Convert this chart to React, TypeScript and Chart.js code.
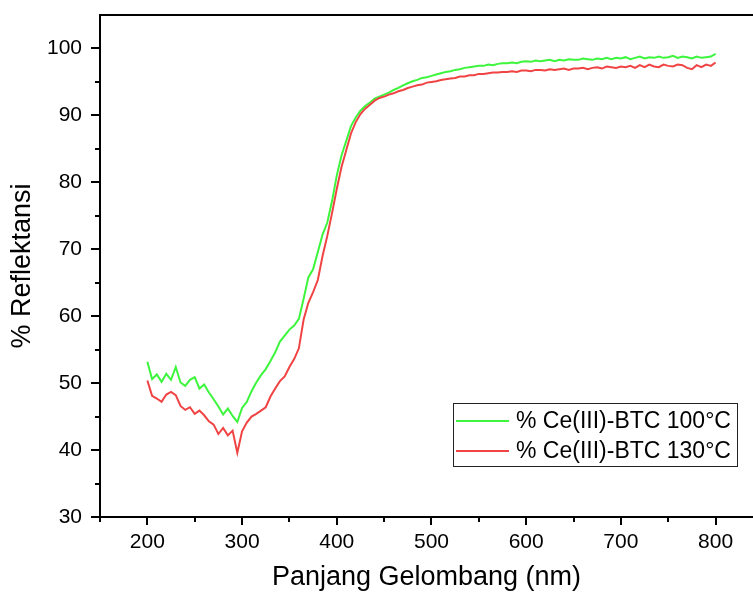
import React, { useEffect, useRef } from "react";
import { Chart, registerables } from "chart.js";

Chart.register(...registerables);

const wavelengths: number[] = [
  200, 205, 210, 215, 220, 225, 230, 235, 240, 245, 250, 255, 260, 265, 270, 275, 280, 285, 290, 295,
  300, 305, 310, 315, 320, 325, 330, 335, 340, 345, 350, 355, 360, 365, 370, 375, 380, 385, 390, 395,
  400, 405, 410, 415, 420, 425, 430, 435, 440, 445, 450, 455, 460, 465, 470, 475, 480, 485, 490, 495,
  500, 505, 510, 515, 520, 525, 530, 535, 540, 545, 550, 555, 560, 565, 570, 575, 580, 585, 590, 595,
  600, 605, 610, 615, 620, 625, 630, 635, 640, 645, 650, 655, 660, 665, 670, 675, 680, 685, 690, 695,
  700, 705, 710, 715, 720, 725, 730, 735, 740, 745, 750, 755, 760, 765, 770, 775, 780, 785, 790, 795,
  800,
];

const ce100: number[] = [
  53.2, 50.6, 51.3, 50.2, 51.4, 50.5, 52.4, 50.1, 49.6, 50.5, 50.9, 49.2, 49.8, 48.6, 47.6, 46.5, 45.3, 46.2, 45.1, 44.2,
  46.3, 47.2, 48.8, 50.1, 51.2, 52.1, 53.3, 54.6, 56.2, 57.1, 58.0, 58.6, 59.6, 62.6, 65.8, 67.0, 69.6, 72.2, 74.0, 77.2,
  81.0, 84.0, 86.2, 88.4, 89.7, 90.7, 91.4, 91.9, 92.5, 92.8, 93.1, 93.4, 93.8, 94.1, 94.5, 94.8, 95.1, 95.3, 95.6, 95.7,
  95.9, 96.1, 96.3, 96.5, 96.6, 96.8, 96.9, 97.1, 97.2, 97.3, 97.4, 97.4, 97.6, 97.5, 97.7, 97.8, 97.8, 97.9, 97.8, 98.0,
  98.1, 98.0, 98.2, 98.1, 98.2, 98.3, 98.1, 98.3, 98.2, 98.4, 98.3, 98.3, 98.5, 98.4, 98.3, 98.5, 98.4, 98.6, 98.4, 98.6,
  98.5, 98.7, 98.4, 98.6, 98.8, 98.5, 98.7, 98.6, 98.8, 98.6, 98.7, 98.9, 98.6, 98.8, 98.7, 98.5, 98.8, 98.6, 98.7, 98.8,
  99.2,
];

const ce130: number[] = [
  50.4, 48.1, 47.7, 47.2, 48.3, 48.7, 48.2, 46.6, 46.0, 46.4, 45.4, 45.9, 45.2, 44.3, 43.8, 42.4, 43.3, 42.2, 42.9, 39.6,
  42.8, 44.1, 45.0, 45.4, 45.9, 46.4, 48.0, 49.2, 50.3, 51.0, 52.4, 53.6, 55.2, 59.5, 62.0, 63.6, 65.4, 69.0, 72.0, 75.4,
  79.0, 82.3, 84.8, 87.3, 89.0, 90.2, 91.0, 91.6, 92.2, 92.6, 92.8, 93.1, 93.3, 93.6, 93.8, 94.1, 94.3, 94.5, 94.6, 94.9,
  95.0, 95.1, 95.3, 95.4, 95.5, 95.6, 95.8, 95.8, 96.0, 96.0, 96.2, 96.2, 96.3, 96.4, 96.4, 96.5, 96.5, 96.6, 96.5, 96.7,
  96.7, 96.6, 96.8, 96.8, 96.7, 96.9, 96.8, 96.9, 97.0, 96.8, 97.0, 97.0, 97.1, 96.9, 97.1, 97.2, 97.0, 97.3, 97.2, 97.1,
  97.3, 97.2, 97.4, 97.1, 97.5, 97.2, 97.6, 97.3, 97.2, 97.6, 97.4, 97.3, 97.6, 97.5, 97.1, 96.9, 97.5, 97.2, 97.6, 97.4,
  97.9,
];

const seriesLabels: string[] = ["% Ce(III)-BTC 100°C", "% Ce(III)-BTC 130°C"];
const seriesColors: string[] = ["#3cf53c", "#f04444"];

const xMajorTicks: number[] = [200, 300, 400, 500, 600, 700, 800];
const xMinorTicks: number[] = [150, 250, 350, 450, 550, 650, 750];
const yMajorTicks: number[] = [30, 40, 50, 60, 70, 80, 90, 100];
const yMinorTicks: number[] = [35, 45, 55, 65, 75, 85, 95];

const xTitle = "Panjang Gelombang (nm)";
const yTitle = "% Reflektansi";

const FONT = "'Liberation Sans', Arial, sans-serif";

const framePlugin = {
  id: "frame",
  afterDraw(chart: any) {
    const ctx = chart.ctx;
    const area = chart.chartArea;
    const xs = chart.scales.x;
    const ys = chart.scales.y;
    ctx.save();
    ctx.strokeStyle = "#000";
    ctx.lineWidth = 2;
    ctx.beginPath();
    ctx.moveTo(area.left - 1, area.top);
    ctx.lineTo(area.right, area.top);
    ctx.stroke();
    const drawX = (vals: number[], len: number) => {
      vals.forEach((v) => {
        const px = Math.round(xs.getPixelForValue(v));
        ctx.beginPath();
        ctx.moveTo(px, area.bottom);
        ctx.lineTo(px, area.bottom + len);
        ctx.stroke();
      });
    };
    const drawY = (vals: number[], len: number) => {
      vals.forEach((v) => {
        const py = Math.round(ys.getPixelForValue(v));
        ctx.beginPath();
        ctx.moveTo(area.left, py);
        ctx.lineTo(area.left - len, py);
        ctx.stroke();
      });
    };
    drawX(xMajorTicks, 8);
    drawX(xMinorTicks, 5);
    drawY(yMajorTicks, 9);
    drawY(yMinorTicks, 5);

    // legend
    const bx = 453, by = 403, bw = 284, bh = 63;
    ctx.lineWidth = 1;
    ctx.strokeStyle = "#222";
    ctx.strokeRect(bx + 0.5, by + 0.5, bw, bh);
    ctx.font = `23px ${FONT}`;
    ctx.textBaseline = "middle";
    ctx.textAlign = "left";
    ctx.fillStyle = "#000";
    const rows = [421, 451];
    chart.data.datasets.forEach((ds: any) => {
      const idx = seriesLabels.indexOf(ds.label);
      const y = rows[idx];
      ctx.strokeStyle = ds.borderColor;
      ctx.lineWidth = 2;
      ctx.beginPath();
      ctx.moveTo(456, y);
      ctx.lineTo(509, y);
      ctx.stroke();
      ctx.fillText(ds.label, 516, y + 1);
    });
    ctx.restore();
  },
};

export default function App() {
  const canvasRef = useRef<HTMLCanvasElement | null>(null);

  useEffect(() => {
    document.body.style.margin = "0";
    const canvas = canvasRef.current;
    if (!canvas) return;
    const chart = new Chart(canvas, {
      type: "line",
      data: {
        datasets: [
          {
            label: seriesLabels[0],
            data: wavelengths.map((x, i) => ({ x, y: ce100[i] })),
            borderColor: seriesColors[0],
            borderWidth: 2,
            pointRadius: 0,
            tension: 0,
            order: 1,
          },
          {
            label: seriesLabels[1],
            data: wavelengths.map((x, i) => ({ x, y: ce130[i] })),
            borderColor: seriesColors[1],
            borderWidth: 2,
            pointRadius: 0,
            tension: 0,
            order: 0,
          },
        ],
      },
      options: {
        animation: false,
        responsive: false,
        maintainAspectRatio: false,
        layout: { padding: { top: 15, right: 0, left: 0, bottom: 0 } },
        plugins: { legend: { display: false }, tooltip: { enabled: false } },
        scales: {
          x: {
            type: "linear",
            min: 150,
            max: 839.5,
            afterBuildTicks: (axis: any) => {
              axis.ticks = xMajorTicks.map((v) => ({ value: v }));
            },
            afterFit: (axis: any) => {
              axis.height = 77;
              axis.paddingLeft = 0;
              axis.paddingRight = 0;
            },
            grid: { display: false, drawTicks: false },
            border: { display: true, color: "#000", width: 2 },
            ticks: {
              color: "#000",
              padding: 13,
              maxRotation: 0,
              autoSkip: false,
              font: { family: FONT, size: 21 },
            },
            title: {
              display: true,
              text: xTitle,
              color: "#000",
              font: { family: FONT, size: 27 },
              padding: { top: 0, bottom: 0 },
            },
          },
          y: {
            type: "linear",
            min: 30,
            max: 105,
            afterBuildTicks: (axis: any) => {
              axis.ticks = yMajorTicks.map((v) => ({ value: v }));
            },
            afterFit: (axis: any) => {
              axis.width = 100;
              axis.paddingTop = 0;
              axis.paddingBottom = 0;
            },
            grid: { display: false, drawTicks: false },
            border: { display: true, color: "#000", width: 2 },
            ticks: {
              color: "#000",
              padding: 18,
              autoSkip: false,
              font: { family: FONT, size: 21 },
            },
            title: {
              display: true,
              text: yTitle,
              color: "#000",
              font: { family: FONT, size: 27 },
              padding: { top: 6, bottom: 0 },
            },
          },
        },
      },
      plugins: [framePlugin],
    });
    return () => chart.destroy();
  }, []);

  return (
    <div style={{ position: "fixed", left: 0, top: 0, width: 753, height: 594, background: "#fff" }}>
      <canvas ref={canvasRef} width={753} height={594} style={{ width: 753, height: 594 }} />
    </div>
  );
}
